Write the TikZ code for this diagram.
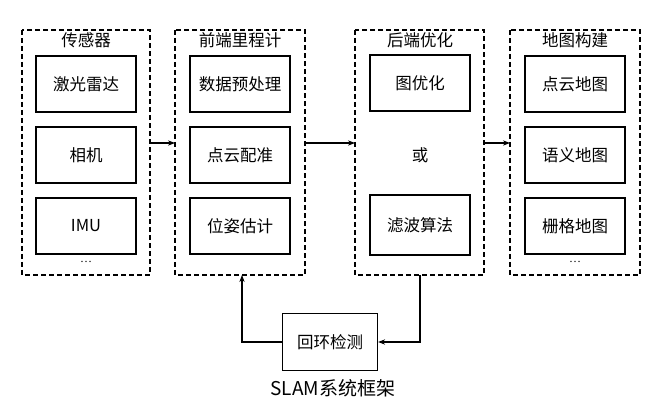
\documentclass[tikz,border=0pt]{standalone}
\usepackage{fontspec}
\setmainfont{Liberation Serif}
\newfontfamily\cjk{Noto Sans CJK SC}
\usetikzlibrary{arrows.meta}
\begin{document}
\begin{tikzpicture}[x=1pt,y=-1pt,
  col/.style={draw, dashed, line width=1.2pt, dash pattern=on 5pt off 3pt},
  box/.style={draw, line width=1.2pt, minimum width=100pt, minimum height=56pt, font=\cjk\fontsize{16.5}{16.5}\selectfont},
  hd/.style={font=\cjk\fontsize{16.5}{16.5}\selectfont},
  arr/.style={line width=1.2pt, -{Stealth[length=7pt]}}]
\useasboundingbox (0,0) rectangle (665,406);
\draw[col] (22,30) rectangle (150,275);
\draw[col, line width=1.6pt] (175,30) rectangle (305,275);
\draw[col] (355,30) rectangle (484,275);
\draw[col] (510,30) rectangle (640,275);
\node[hd] (h1) at (86,40) {传感器};
\node[hd] (h2) at (240,40) {前端里程计};
\node[hd] (h3) at (420,40) {后端优化};
\node[hd] (h4) at (575,40) {地图构建};
\node[box] (a1) at (86,84) {激光雷达};
\node[box] (a2) at (86,155) {相机};
\node[box] (a3) at (86,226) {IMU};
\node[font=\large] (a4) at (86,262) {…};
\node[box] (b1) at (240,84) {数据预处理};
\node[box] (b2) at (240,155) {点云配准};
\node[box] (b3) at (240,226) {位姿估计};
\node[box] (c1) at (420,83) {图优化};
\node[hd] (c2) at (420,155) {或};
\node[box, minimum height=60pt] (c3) at (420,225) {滤波算法};
\node[box] (d1) at (575,84) {点云地图};
\node[box] (d2) at (575,155) {语义地图};
\node[box] (d3) at (575,226) {栅格地图};
\node[font=\large] (d4) at (575,262) {…};
\node[box, minimum width=95pt, minimum height=57pt] (lp) at (330,342) {回环检测};
\node[font=\cjk\fontsize{19}{19}\selectfont] (t) at (333,388) {SLAM系统框架};
\coordinate (p1) at (150,143); \coordinate (p2) at (175,143);
\coordinate (p3) at (305,143); \coordinate (p4) at (355,143);
\coordinate (p5) at (484,143); \coordinate (p6) at (510,143);
\draw[arr] (p1) -- (p2);
\draw[arr] (p3) -- (p4);
\draw[arr] (p5) -- (p6);
\coordinate (q1) at (420,275); \coordinate (q2) at (242,275);
\draw[arr] (q1) |- (lp.east);
\draw[arr] (lp.west) -| (q2);
\end{tikzpicture}
\end{document}
